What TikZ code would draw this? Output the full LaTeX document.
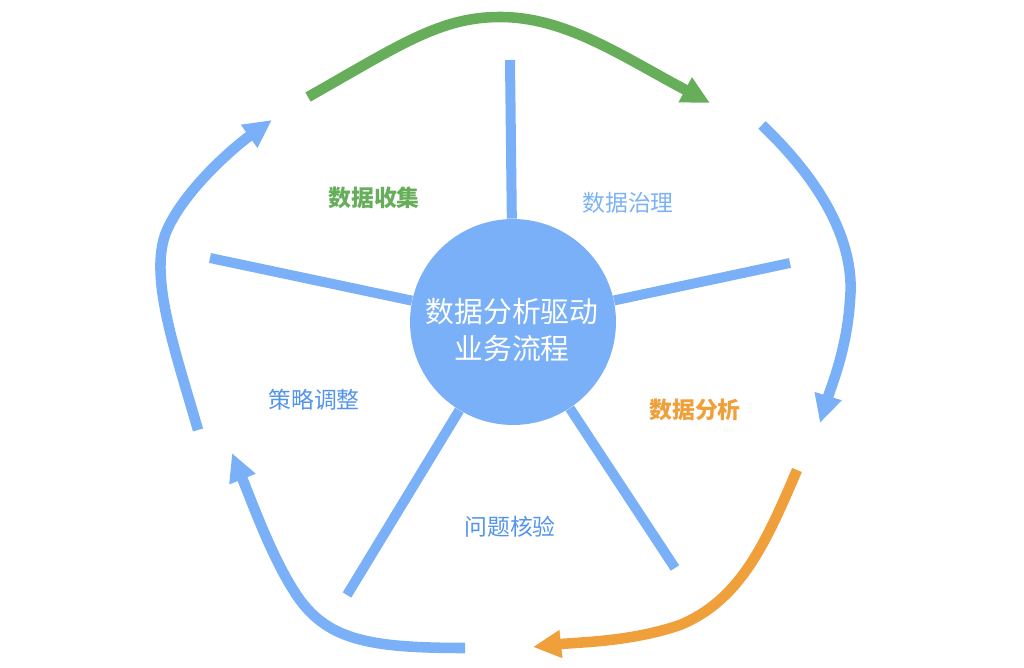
\documentclass[tikz,border=0pt]{standalone}
\usepackage{fontspec}
\setmainfont{Noto Sans CJK SC}
\usetikzlibrary{arrows.meta,shapes.geometric}
\definecolor{skyblue}{RGB}{122,176,247}
\definecolor{leafgreen}{RGB}{102,174,90}
\definecolor{amber}{RGB}{240,160,58}
\definecolor{tagblue}{RGB}{84,148,236}
\definecolor{paleblue}{RGB}{125,178,245}
\begin{document}
\begin{tikzpicture}[x=0.02cm,y=-0.02cm]
	\tikzset{hub/.style = {shape=circle,fill=skyblue,inner sep=0pt,minimum size=4.12cm}}
	\tikzset{spoke/.style = {draw=skyblue,line width=5.7pt}}
	\tikzset{flow/.style = {line width=6pt,-{Triangle[length=16pt,width=15pt]}}}
	\tikzset{tag/.style = {font=\fontsize{13}{15}\selectfont}}
	\useasboundingbox (0,0) rectangle (1024,668);
	% centre and spokes
	\node[hub] (hub) at (513,322) {};
	\node[text=white,align=center,font=\fontsize{16.4}{21}\selectfont] (title) at (512,330) {数据分析驱动\\业务流程};
	\coordinate (top) at (510,60);
	\coordinate (ne) at (790,263);
	\coordinate (se) at (675,568);
	\coordinate (sw) at (347,595);
	\coordinate (nw) at (210,258);
	\foreach \e in {top,ne,se,sw,nw}
		\draw[spoke] (hub) -- (\e);
	% labels
	\node[tag,text=leafgreen,font=\fontsize{13}{15}\selectfont\bfseries] (collect) at (374,198) {数据收集};
	\node[tag,text=paleblue] (govern) at (628,203) {数据治理};
	\node[tag,text=amber,font=\fontsize{13}{15}\selectfont\bfseries] (analyse) at (695,410) {数据分析};
	\node[tag,text=tagblue] (verify) at (510,527) {问题核验};
	\node[tag,text=tagblue] (adjust) at (314,400) {策略调整};
	% cycle arrows
	\coordinate (g1) at (308,97);
	\coordinate (g2) at (710,103);
	\coordinate (b1) at (762,125);
	\coordinate (b2) at (820,423);
	\coordinate (o1) at (797,470);
	\coordinate (o2) at (533,647);
	\coordinate (c1) at (465,648);
	\coordinate (c2) at (232,453);
	\coordinate (d1) at (198,430);
	\coordinate (d2) at (272,120);
	\draw[flow,leafgreen] (g1) .. controls (400,45) and (440,17) .. (500,17) .. controls (565,17) and (620,55) .. (g2);
	\draw[flow,skyblue] (b1) .. controls (830,190) and (855,250) .. (850,300) .. controls (847,350) and (830,390) .. (b2);
	\draw[flow,amber] (o1) .. controls (765,545) and (740,600) .. (680,625) .. controls (630,642) and (580,642) .. (o2);
	\draw[flow,skyblue] (c1) .. controls (370,648) and (330,640) .. (300,600) .. controls (275,565) and (255,510) .. (c2);
	\draw[flow,skyblue] (d1) .. controls (175,350) and (150,280) .. (165,235) .. controls (180,195) and (230,150) .. (d2);
\end{tikzpicture}
\end{document}
